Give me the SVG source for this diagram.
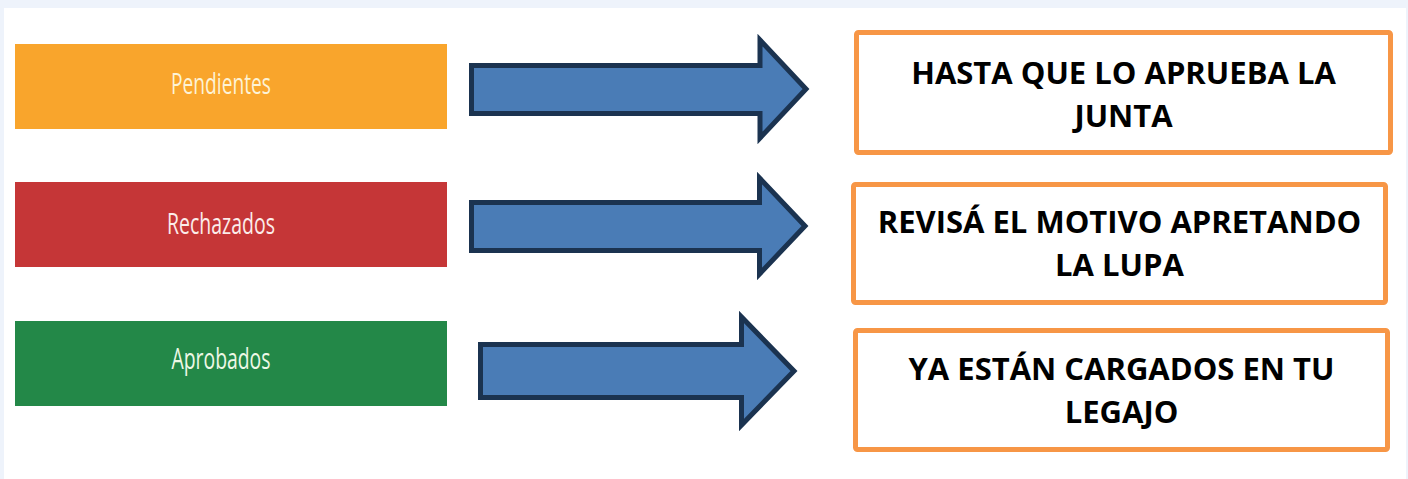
<svg xmlns="http://www.w3.org/2000/svg" width="1408" height="479" viewBox="0 0 1408 479">
<style>
.bar-text{font-family:"Open Sans","Liberation Sans",sans-serif;font-size:29px;text-anchor:middle;}
.box{fill:#ffffff;stroke:#f79646;stroke-width:5;}
.box-text{font-family:"Open Sans","Liberation Sans",sans-serif;font-weight:bold;font-size:31px;fill:#000000;text-anchor:middle;}
.arrow{fill:#4a7cb6;stroke:#1b3350;stroke-width:5;stroke-linejoin:miter;}
</style>
<rect x="0" y="0" width="1408" height="479" fill="#eef3fb"/>
<rect x="4" y="8" width="1402" height="471" fill="#ffffff"/>
<g id="pendientes">
<rect x="15" y="44" width="432" height="85" fill="#f9a52c"/>
<text class="bar-text" x="221" y="94" fill="#fdf3d6" textLength="100" lengthAdjust="spacingAndGlyphs">Pendientes</text>
</g>
<g id="rechazados">
<rect x="15" y="182" width="432" height="85" fill="#c53637"/>
<text class="bar-text" x="221" y="234" fill="#fbecea" textLength="108" lengthAdjust="spacingAndGlyphs">Rechazados</text>
</g>
<g id="aprobados">
<rect x="15" y="321" width="432" height="85" fill="#238848"/>
<text class="bar-text" x="221" y="369" fill="#eef8e6" textLength="99" lengthAdjust="spacingAndGlyphs">Aprobados</text>
</g>
<g id="connectors">
<path class="arrow" d="M471.5 65.5 H760 V40 L806 89 L760 138 V113.5 H471.5 Z"/>
<path class="arrow" d="M471.5 202.5 H759.5 V178 L805 226 L759.5 274 V250.5 H471.5 Z"/>
<path class="arrow" d="M480.5 344.5 H741.5 V317 L794 371 L741.5 425 V397.5 H480.5 Z"/>
</g>
<g id="box-junta">
<rect class="box" x="856.5" y="32.5" width="534" height="120" rx="2"/>
<text class="box-text" x="1123.5" y="84">HASTA QUE LO APRUEBA LA</text>
<text class="box-text" x="1123.5" y="127">JUNTA</text>
</g>
<g id="box-lupa">
<rect class="box" x="853.5" y="184.5" width="532" height="118" rx="2"/>
<text class="box-text" x="1119.5" y="233">REVISÁ EL MOTIVO APRETANDO</text>
<text class="box-text" x="1119.5" y="276">LA LUPA</text>
</g>
<g id="box-legajo">
<rect class="box" x="855.5" y="330.5" width="532" height="119" rx="2"/>
<text class="box-text" x="1121.5" y="380">YA ESTÁN CARGADOS EN TU</text>
<text class="box-text" x="1121.5" y="423">LEGAJO</text>
</g>
</svg>
